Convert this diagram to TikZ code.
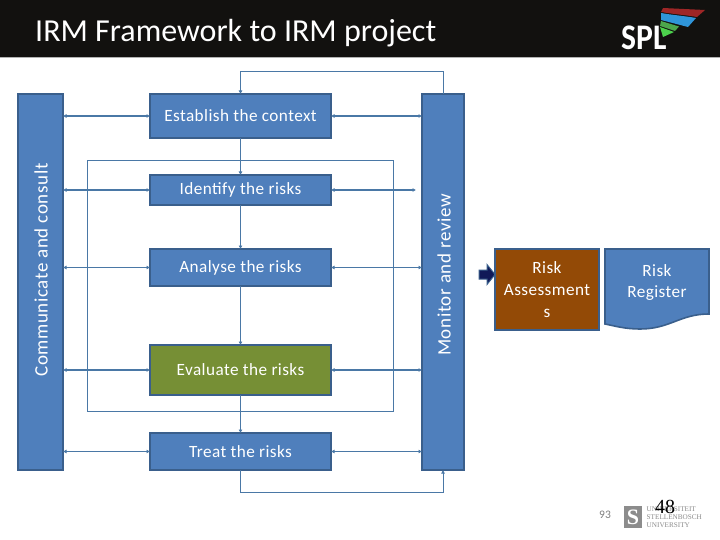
\documentclass[tikz,border=0pt]{standalone}
\usepackage{fontspec}
\setmainfont{Carlito}
\newfontfamily\wideface[LetterSpace=2.5]{Carlito}
\newfontfamily\barface[LetterSpace=3.2]{Carlito}
\newfontfamily\serifface{Liberation Serif}
\usetikzlibrary{arrows.meta}
\definecolor{bluefill}{HTML}{4F7FBC}
\definecolor{blueedge}{HTML}{3A5F8C}
\definecolor{greenfill}{HTML}{768F35}
\definecolor{brownfill}{HTML}{934A06}
\definecolor{linecol}{HTML}{4A78A6}
\definecolor{headbar}{HTML}{12110F}
\tikzset{
  x=1pt,y=-1pt,
  boxbase/.style={draw=blueedge,line width=1.6pt,outer sep=0pt,anchor=north west,inner sep=0pt,text=white,align=center,font=\wideface\fontsize{17.2}{21}\selectfont},
  bluebox/.style={boxbase,fill=bluefill},
  conn/.style={draw=linecol,line width=1.9pt,{Latex[length=3.5pt,width=4pt]}-{Latex[length=3.5pt,width=4pt]}},
  connthin/.style={conn,line width=1.2pt},
  flow/.style={draw=linecol,line width=1.6pt,-{Latex[length=3.5pt,width=4pt]}},
  loopline/.style={draw=linecol,line width=1pt,-{Latex[length=3.5pt,width=4pt]}},
  barlabel/.style={rotate=90,text=white,font=\barface\fontsize{19}{20}\selectfont,inner sep=0pt},
}
\newcommand{\boxat}[7][bluebox]{\node[#1,minimum width=#4pt-#2pt,minimum height=#5pt-#3pt] (#6) at (#2,#3) {#7};}
\begin{document}
\begin{tikzpicture}
\useasboundingbox (0,0) rectangle (720,540);
\fill[white] (0,0) rectangle (720,540);
% header
\fill[headbar] (0,0) rectangle (720,57);
\fill[black!30] (0,57) rectangle (720,58);
\node[text=white,anchor=base west,inner sep=0pt,font=\fontsize{32}{34}\selectfont] (title) at (35,42) {IRM Framework to IRM project};
% SPL logo
\fill[red!55!black!85!white] (663,8) -- (705,10) -- (697,17) .. controls (685,15) and (672,14) .. (661,12) -- cycle;
\fill[cyan!70!blue!85!white] (661,13) .. controls (672,15) and (685,16) .. (696,18) -- (688,27) -- (661,20) -- cycle;
\fill[green!50!black!70!white] (661,21) -- (679,26.5) -- (675,31) -- (660,26) -- cycle;
\fill[green!75!black!70!white] (660,27) -- (674,32) -- (663,37) -- cycle;
\node[text=white,anchor=base west,inner sep=0pt,xscale=0.88,font=\bfseries\fontsize{36}{36}\selectfont] (spl) at (621,50) {SPL};
% vertical bars
\node[bluebox,minimum width=45pt,minimum height=376pt] (comm) at (18,94) {};
\node[bluebox,minimum width=42pt,minimum height=376pt] (mon) at (422,94) {};
\node[barlabel] (commt) at (41,270) {Communicate and consult};
\node[barlabel] (mont) at (444,275) {Monitor and review};
% inner frame
\node[draw=linecol,line width=1pt,outer sep=0pt,anchor=north west,minimum width=306pt,minimum height=251pt,inner sep=0pt] (frame) at (87,160.5) {};
% boxes
\boxat{150}{94}{331}{138}{est}{Establish the context}
\boxat{150}{175}{331}{205}{ide}{Identify the risks}
\boxat{150}{249}{331}{286}{ana}{Analyse the risks}
\boxat[boxbase,fill=greenfill]{150}{345}{331}{395}{eva}{Evaluate the risks}
\boxat{150}{433}{331}{470}{tre}{Treat the risks}
% vertical flow
\draw[flow] (est.south) -- (ide.north);
\draw[flow] (ide.south) -- (ana.north);
\draw[flow] (ana.south) -- (eva.north);
\draw[flow] (eva.south) -- (tre.north);
% side arrows
\coordinate (idr) at (416,190);
\draw[conn] (comm.east |- est.west) -- (est.west);
\draw[conn] (est.east) -- (mon.west |- est.east);
\draw[conn] (comm.east |- ide.west) -- (ide.west);
\draw[conn] (ide.east) -- (idr);
\draw[conn] (comm.east |- ana.west) -- (ana.west);
\draw[conn] (ana.east) -- (mon.west |- ana.east);
\draw[connthin] (comm.east |- eva.west) -- (eva.west);
\draw[connthin] (eva.east) -- (mon.west |- eva.east);
\draw[connthin] (comm.east |- tre.west) -- (tre.west);
\draw[connthin] (tre.east) -- (mon.west |- tre.east);
% loops
\coordinate (lty) at (0,72);
\coordinate (lby) at (0,492);
\draw[loopline] (mon.north) -- (mon.north |- lty) -- (est.north |- lty) -- (est.north);
\draw[loopline] (tre.south) -- (tre.south |- lby) -- (mon.south |- lby) -- (mon.south);
% right part
\boxat[boxbase,fill=brownfill]{495}{249}{599}{330}{ra}{Risk\\[1pt]Assessment\\[1pt]s}
\fill[black!75!blue!80!bluefill,draw=blueedge,line width=1pt] (479,270) -- (487,270) -- (487,264.5) -- (495,274.5) -- (487,284.5) -- (487,279) -- (479,279) -- cycle;
\path[fill=bluefill,draw=blueedge,line width=1.6pt] (605,249) -- (709,249) -- (709,314) .. controls (680,314) and (670,329) .. (640,329) .. controls (625,329) and (615,326) .. (605,324) -- cycle;
\node[text=white,align=center,inner sep=0pt,font=\wideface\fontsize{17.2}{21}\selectfont] (rr) at (657,283) {Risk\\Register};
% footer
\node[text=black!50,inner sep=0pt,font=\fontsize{11.5}{12}\selectfont] (pg) at (605,515) {93};
\fill[black!45] (624,506) rectangle (642,528);
\node[text=white,inner sep=0pt,font=\serifface\bfseries\fontsize{22}{22}\selectfont] (shield) at (633,517) {S};
\node[text=black!45,align=left,anchor=west,inner sep=0pt,font=\serifface\fontsize{7.2}{8.2}\selectfont] (univ) at (646.5,517) {UNIVERSITEIT\\STELLENBOSCH\\UNIVERSITY};
\node[text=black,inner sep=0pt,font=\serifface\fontsize{20}{20}\selectfont] (num) at (665,507) {48};
\end{tikzpicture}
\end{document}
